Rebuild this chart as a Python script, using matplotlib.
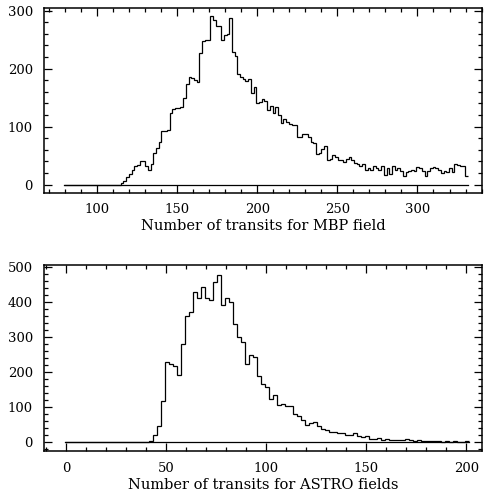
import numpy as np
import matplotlib
matplotlib.use("Agg")
import matplotlib.pyplot as plt
from matplotlib.ticker import MultipleLocator

# ---------------- data ----------------
# MBP field: histogram of number of transits (bin start, bin width, counts)
mbp_start = 79.0
mbp_width = 1.695
mbp_counts = [
    0, 0, 0, 0, 0, 0, 0, 0, 0, 0, 0, 0, 0, 0, 0, 0, 0, 0, 0, 0, 0,
    3, 7, 13, 19, 25, 32, 33, 40, 40, 32, 25, 36, 54, 64, 74, 93, 93, 94,
    124, 131, 133, 133, 134, 149, 174, 185, 184, 180, 177, 227, 248, 249, 249,
    291, 284, 273, 273, 250, 258, 260, 288, 228, 222, 190, 185, 182, 178, 182,
    158, 169, 141, 142, 148, 144, 128, 136, 123, 134, 120, 106, 114, 108, 104,
    102, 102, 82, 82, 87, 88, 82, 74, 71, 52, 55, 62, 67, 42, 45, 51, 47, 43,
    42, 39, 44, 48, 43, 38, 36, 32, 35, 26, 29, 25, 32, 28, 25, 32, 16, 28,
    19, 32, 25, 28, 24, 15, 22, 24, 25, 24, 30, 28, 23, 15, 24, 28, 30, 28,
    25, 20, 23, 21, 28, 22, 36, 33, 32, 32, 15,
]

# ASTRO fields
astro_start = -0.5
astro_width = 2.0
astro_counts = [
    0, 0, 0, 0, 0, 0, 0, 0, 0, 0, 0, 0, 0, 0, 0, 0, 0, 0, 0, 0, 0,
    3, 20, 48, 119, 230, 224, 217, 191, 280, 359, 371, 428, 413, 443, 413,
    405, 456, 478, 392, 413, 400, 338, 300, 285, 224, 250, 243, 190, 166,
    158, 125, 134, 107, 110, 103, 104, 82, 74, 63, 50, 55, 58, 46, 38, 35,
    31, 29, 28, 28, 21, 20, 27, 19, 15, 17, 10, 10, 12, 8, 10, 8, 8, 7, 8,
    10, 7, 5, 8, 4, 5, 3, 5, 3, 2, 3, 2, 3, 2, 2, 3,
]

top_xlabel = "Number of transits for MBP field"
bot_xlabel = "Number of transits for ASTRO fields"
top_xticks = [100, 150, 200, 250, 300]
top_yticks = [0, 100, 200, 300]
bot_xticks = [0, 50, 100, 150, 200]
bot_yticks = [0, 100, 200, 300, 400, 500]

# ---------------- figure ----------------
plt.rcParams['font.family'] = ['DejaVu Serif']
W, H = 486, 496
fig = plt.figure(figsize=(W / 100, H / 100), dpi=100)

def box(l, t, r, b):
    return [l / W, 1 - b / H, (r - l) / W, (b - t) / H]

ax1 = fig.add_axes(box(44, 8, 482, 193))
ax2 = fig.add_axes(box(44, 265, 482, 451))

def draw(ax, start, width, counts, xlim, ylim, xticks, yticks, xlabel, xpad):
    counts = np.asarray(counts, dtype=float)
    edges = start + width * np.arange(len(counts) + 1)
    ax.plot([edges[0], edges[-1]], [0, 0], color='black', lw=0.9)
    ax.stairs(counts, edges, baseline=None, color='black', lw=0.9)
    ax.set_xlim(*xlim)
    ax.set_ylim(*ylim)
    ax.set_xticks(xticks)
    ax.set_yticks(yticks)
    ax.xaxis.set_minor_locator(MultipleLocator(10))
    ax.yaxis.set_minor_locator(MultipleLocator(20))
    ax.tick_params(which='both', direction='in', top=True, right=True,
                   labelsize=9.5, width=0.9, colors='black')
    ax.tick_params(which='major', length=6)
    ax.tick_params(which='minor', length=3)
    ax.tick_params(axis='x', pad=xpad)
    ax.tick_params(axis='y', pad=8)
    for s in ax.spines.values():
        s.set_linewidth(1.1)
    ax.set_xlabel(xlabel, fontsize=10.5, labelpad=2)

draw(ax1, mbp_start, mbp_width, mbp_counts, (66.7, 340.3), (-14.5, 304.7),
     top_xticks, top_yticks, top_xlabel, 7)
draw(ax2, astro_start, astro_width, astro_counts, (-11.0, 207.9), (-24.5, 505.7),
     bot_xticks, bot_yticks, bot_xlabel, 8)

fig.savefig("out.png", dpi=100)
